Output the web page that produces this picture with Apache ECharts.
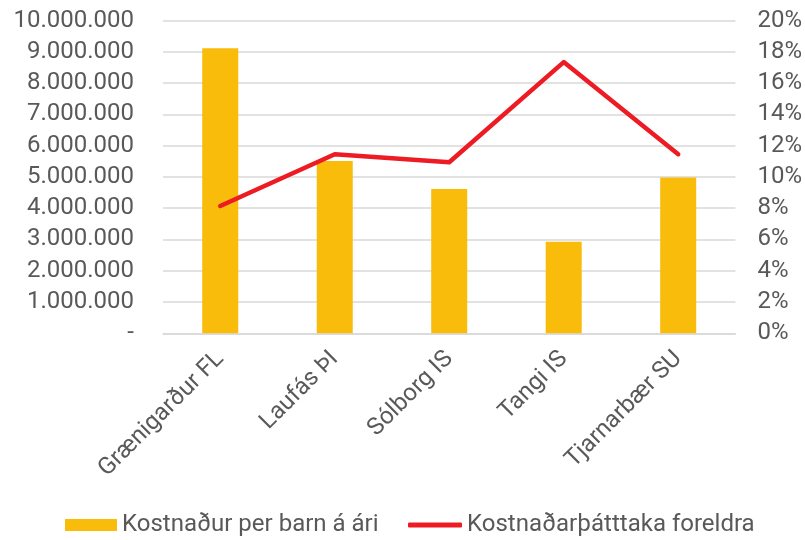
<!DOCTYPE html>
<html>
<head>
<meta charset="utf-8">
<script src="https://cdn.jsdelivr.net/npm/echarts@6/dist/echarts.min.js"></script>
<style>
html,body{margin:0;padding:0;background:#fff;}
#chart{width:805px;height:540px;}
</style>
</head>
<body>
<div id="chart"></div>
<script>
const categories = ['Grænigarður FL', 'Laufás ÞI', 'Sólborg IS', 'Tangi IS', 'Tjarnarbær SU'];
const costPerChild = [9110000, 5510000, 4610000, 2930000, 4980000];
const parentShare = [8.14, 11.45, 10.94, 17.34, 11.45];
const barName = 'Kostnaður per barn á ári';
const lineName = 'Kostnaðarþátttaka foreldra';

function fmtThousands(v) {
  if (v === 0) return '-';
  return String(Math.round(v)).replace(/\B(?=(\d{3})+(?!\d))/g, '.');
}

const font = 'Roboto';
const fs = 24;
const textColor = '#595959';
const chart = echarts.init(document.getElementById('chart'), null, {renderer: 'canvas'});
chart.setOption({
  animation: false,
  textStyle: {fontFamily: font},
  grid: {left: 163, right: 69, top: 20.5, bottom: 206.7, containLabel: false},
  legend: [
    {
      left: 65, top: 513, padding: 0, itemWidth: 52, itemHeight: 12, itemGap: 20,
      data: [{name: barName, icon: 'rect'}],
      textStyle: {fontFamily: font, fontSize: fs, color: textColor}
    },
    {
      left: 408, top: 513, padding: 0, itemWidth: 54, itemHeight: 5, itemGap: 20,
      data: [{name: lineName, icon: 'roundRect'}],
      textStyle: {fontFamily: font, fontSize: fs, color: textColor}
    }
  ],
  xAxis: {
    type: 'category',
    data: categories,
    axisTick: {show: false},
    axisLine: {lineStyle: {color: '#d9d9d9', width: 1.5}},
    axisLabel: {rotate: 45, margin: 22, fontFamily: font, fontSize: fs, color: textColor, interval: 0}
  },
  yAxis: [
    {
      type: 'value', min: 0, max: 10000000, interval: 1000000,
      axisLine: {show: false}, axisTick: {show: false},
      splitLine: {lineStyle: {color: '#d9d9d9', width: 1.5}},
      axisLabel: {margin: 29, fontFamily: font, fontSize: fs, color: textColor, formatter: fmtThousands}
    },
    {
      type: 'value', min: 0, max: 20, interval: 2, position: 'right',
      axisLine: {show: false}, axisTick: {show: false},
      splitLine: {show: false},
      axisLabel: {margin: 22, fontFamily: font, fontSize: fs, color: textColor, formatter: v => v + '%'}
    }
  ],
  series: [
    {
      name: barName, type: 'bar', data: costPerChild, barWidth: 36,
      itemStyle: {color: '#F9BC0B'}, yAxisIndex: 0
    },
    {
      name: lineName, type: 'line', data: parentShare, yAxisIndex: 1,
      symbol: 'none', itemStyle: {color: '#ED1C24'},
      lineStyle: {color: '#ED1C24', width: 4.5, cap: 'round', join: 'round'}
    }
  ]
});
</script>
</body>
</html>
